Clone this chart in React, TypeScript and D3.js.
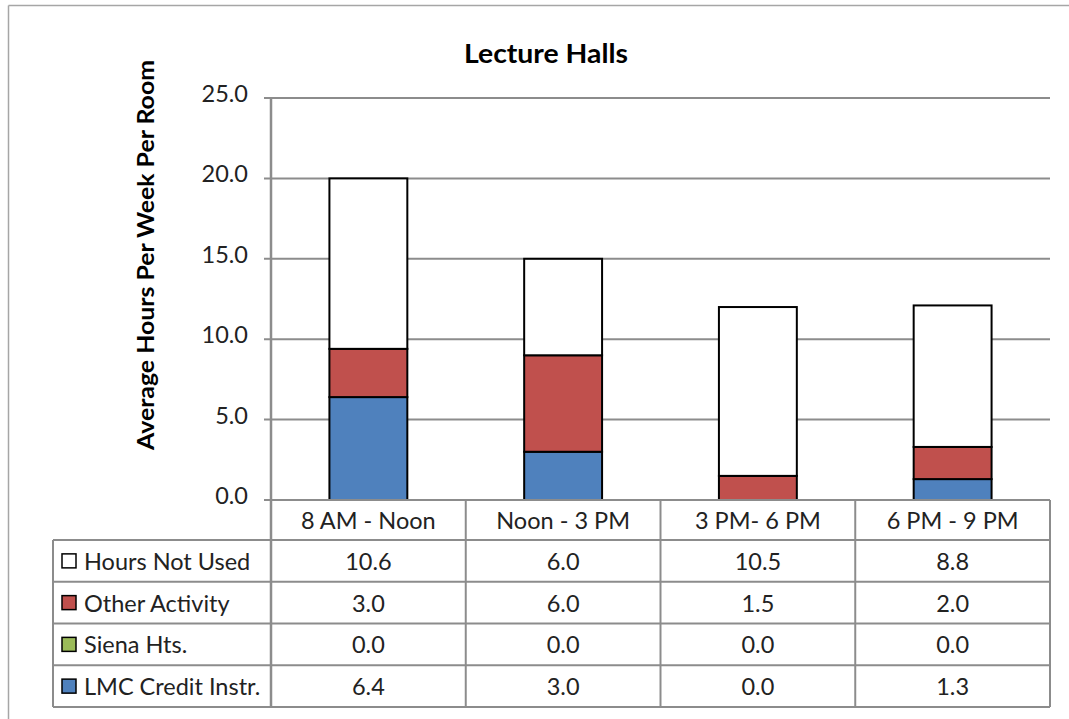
import React from "react";
import * as d3 from "d3";

const categories = ["8 AM - Noon", "Noon - 3 PM", "3 PM- 6 PM", "6 PM - 9 PM"];
const lmcCredit = [6.4, 3.0, 0.0, 1.3];
const sienaHts = [0.0, 0.0, 0.0, 0.0];
const otherActivity = [3.0, 6.0, 1.5, 2.0];
const hoursNotUsed = [10.6, 6.0, 10.5, 8.8];
const yTicks = [0, 5, 10, 15, 20, 25];

const seriesKeys = ["lmc", "siena", "other", "notUsed"];
const seriesLabels: Record<string, string> = {
  lmc: "LMC Credit Instr.",
  siena: "Siena Hts.",
  other: "Other Activity",
  notUsed: "Hours Not Used",
};
const seriesColors: Record<string, string> = {
  lmc: "#4f81bd",
  siena: "#9bbb59",
  other: "#c0504d",
  notUsed: "#ffffff",
};
const seriesValues: Record<string, number[]> = {
  lmc: lmcCredit,
  siena: sienaHts,
  other: otherActivity,
  notUsed: hoursNotUsed,
};
// table row order (top to bottom)
const tableOrder = ["notUsed", "other", "siena", "lmc"];

const W = 1069;
const H = 719;
const plotLeft = 271;
const plotRight = 1050;
const plotTop = 98;
const plotBottom = 500;
const tableLeft = 53;
const headerBottom = 540;
const tableBottom = 707;
const grey = "#8c8c8c";
const FONT = "Lato, 'Open Sans', sans-serif";
const TXT = 23.5;

export default function App() {
  const rows = categories.map((c, i) => ({
    cat: c,
    lmc: lmcCredit[i],
    siena: sienaHts[i],
    other: otherActivity[i],
    notUsed: hoursNotUsed[i],
  }));
  const stack = d3.stack<any>().keys(seriesKeys)(rows);

  const x = d3.scaleBand<string>().domain(categories).range([plotLeft, plotRight]).padding(0);
  const y = d3.scaleLinear().domain([0, 25]).range([plotBottom, plotTop]);
  const rowScale = d3
    .scaleBand<string>()
    .domain(tableOrder)
    .range([headerBottom, tableBottom])
    .padding(0);

  const bw = x.bandwidth() * 0.4;

  return (
    <svg
      width={W}
      height={H}
      style={{ position: "absolute", left: 0, top: 0, display: "block", background: "#fff" }}
      fontFamily={FONT}
    >
      <rect x={0} y={0} width={W} height={H} fill="#fff" />
      {/* outer chart border (cropped: only left & top visible) */}
      <line x1={8.5} x2={W} y1={5.5} y2={5.5} stroke="#a6a6a6" strokeWidth={1.5} />
      <line x1={8.5} x2={8.5} y1={5.5} y2={H} stroke="#a6a6a6" strokeWidth={1.5} />

      {/* title */}
      <text
        x={546}
        y={63}
        textAnchor="middle"
        fontSize={27}
        fontWeight="bold"
        fill="#000"
        textLength={164}
        lengthAdjust="spacingAndGlyphs"
      >
        Lecture Halls
      </text>

      {/* y axis label */}
      <text
        transform={`translate(154,255) rotate(-90)`}
        textAnchor="middle"
        fontSize={23}
        fontWeight="bold"
        fill="#000"
        textLength={390}
        lengthAdjust="spacingAndGlyphs"
      >
        Average Hours Per Week Per Room
      </text>

      {/* gridlines and ticks */}
      {yTicks.map((t) => (
        <g key={t}>
          <line
            x1={plotLeft - 7}
            x2={t === 0 ? plotLeft : plotRight}
            y1={y(t)}
            y2={y(t)}
            stroke={grey}
            strokeWidth={2}
          />
          <text x={248} y={y(t) - 2} textAnchor="end" dominantBaseline="middle" fontSize={TXT} fill="#222">
            {t.toFixed(1)}
          </text>
        </g>
      ))}

      {/* bars */}
      {stack.map((s) =>
        s.map((d, i) => {
          const v = d[1] - d[0];
          if (v <= 0) return null;
          const cx = (x(categories[i]) as number) + x.bandwidth() / 2;
          return (
            <rect
              key={s.key + i}
              x={cx - bw / 2}
              y={y(d[1])}
              width={bw}
              height={y(d[0]) - y(d[1])}
              fill={seriesColors[s.key]}
              stroke="#000"
              strokeWidth={2}
            />
          );
        })
      )}

      {/* table lines */}
      <line x1={plotLeft} x2={plotRight} y1={plotBottom} y2={plotBottom} stroke={grey} strokeWidth={2} />
      <line x1={tableLeft} x2={plotRight} y1={headerBottom} y2={headerBottom} stroke={grey} strokeWidth={2} />
      {tableOrder.map((k) => (
        <line
          key={k}
          x1={tableLeft}
          x2={plotRight}
          y1={(rowScale(k) as number) + rowScale.bandwidth()}
          y2={(rowScale(k) as number) + rowScale.bandwidth()}
          stroke={grey}
          strokeWidth={2}
        />
      ))}
      <line x1={tableLeft} x2={tableLeft} y1={headerBottom} y2={tableBottom} stroke={grey} strokeWidth={2} />
      {categories.map((c) => (
        <line
          key={c}
          x1={(x(c) as number) + x.bandwidth()}
          x2={(x(c) as number) + x.bandwidth()}
          y1={plotBottom}
          y2={tableBottom}
          stroke={grey}
          strokeWidth={2}
        />
      ))}
      {/* y axis line */}
      <line x1={plotLeft} x2={plotLeft} y1={plotTop} y2={tableBottom} stroke={grey} strokeWidth={2.5} />

      {/* header texts */}
      {categories.map((c) => (
        <text
          key={c}
          x={(x(c) as number) + x.bandwidth() / 2}
          y={(plotBottom + headerBottom) / 2}
          textAnchor="middle"
          dominantBaseline="central"
          fontSize={TXT}
          fill="#222"
        >
          {c}
        </text>
      ))}

      {/* table rows */}
      {tableOrder.map((k) => {
        const cy = (rowScale(k) as number) + rowScale.bandwidth() / 2;
        return (
          <g key={k}>
            <rect x={62} y={cy - 7} width={14} height={14} fill={seriesColors[k]} stroke="#000" strokeWidth={1.5} />
            <text x={84} y={cy} dominantBaseline="central" fontSize={TXT} fill="#222">
              {seriesLabels[k]}
            </text>
            {categories.map((c, i) => (
              <text
                key={c}
                x={(x(c) as number) + x.bandwidth() / 2}
                y={cy}
                textAnchor="middle"
                dominantBaseline="central"
                fontSize={TXT}
                fill="#222"
              >
                {seriesValues[k][i].toFixed(1)}
              </text>
            ))}
          </g>
        );
      })}
    </svg>
  );
}
